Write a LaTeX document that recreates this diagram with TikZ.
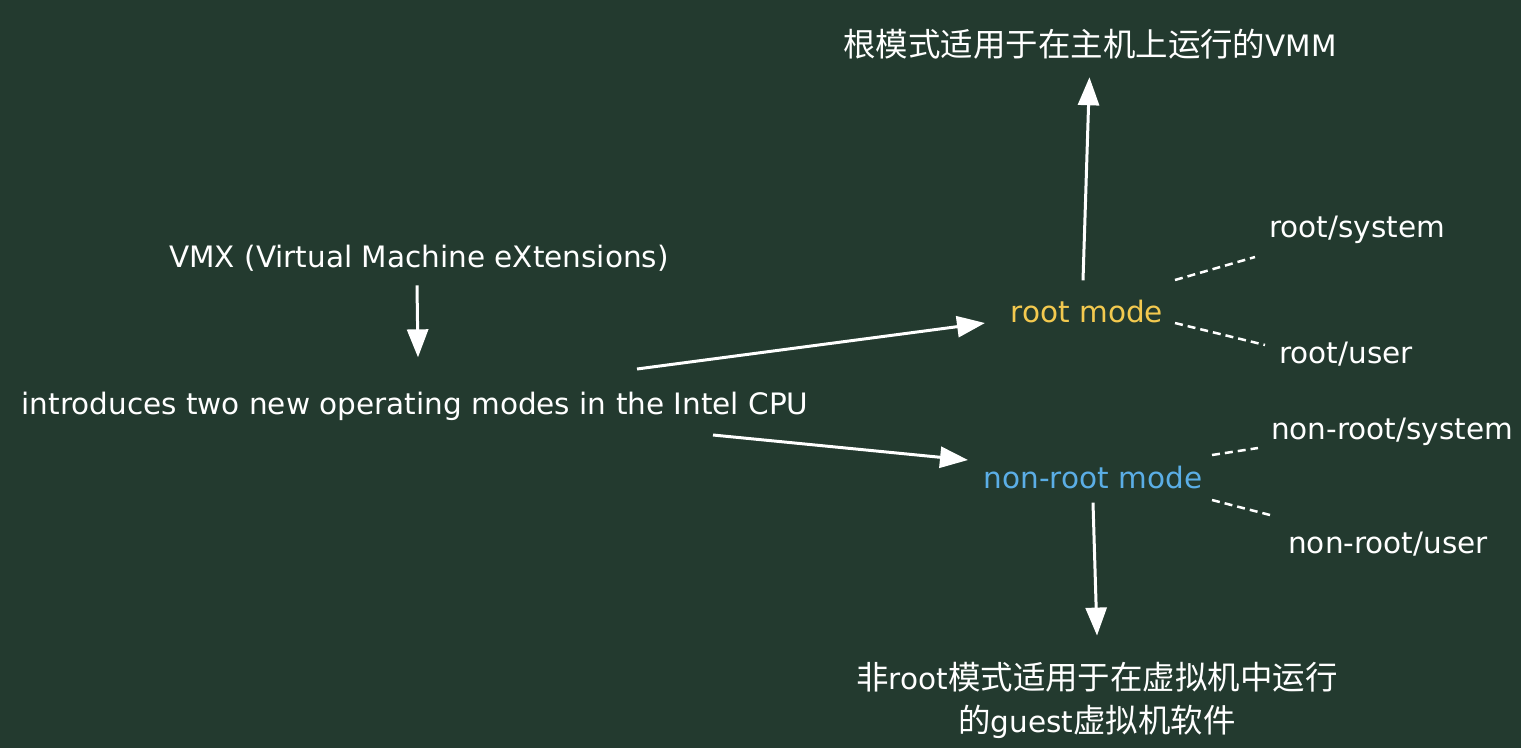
\documentclass[tikz,border=0pt]{standalone}
\usepackage{fontspec}
\setmainfont{DejaVu Sans}
\newfontfamily\cjk[Scale=1.1]{Noto Sans CJK SC}
\usetikzlibrary{arrows.meta}
\definecolor{board}{HTML}{233A2F}
\definecolor{rootcol}{HTML}{F3C94F}
\definecolor{nonrootcol}{HTML}{5BAEE6}
\tikzset{
  txt/.style={text=white, font=\fontsize{29.5}{43}\selectfont, inner sep=0pt, align=center},
  arr/.style={draw=white, line width=3pt, -{Triangle[length=28pt,width=21pt]}},
  dsh/.style={draw=white, line width=2.5pt, dash pattern=on 8pt off 5pt},
}
\begin{document}
\begin{tikzpicture}[x=1pt,y=-1pt]
\fill[board] (0,0) rectangle (1521,748);
\useasboundingbox (0,0) rectangle (1521,748);
% left side
\node[txt] (vmx) at (419,258) {VMX (Virtual Machine eXtensions)};
\node[txt] (intro) at (415,406) {introduces two new operating modes in the Intel CPU};
% modes
\node[txt, text=rootcol] (root) at (1087,311) {root mode};
\node[txt, text=nonrootcol] (nonroot) at (1093,477) {non-root mode};
\node[txt] (vmm) at (1090,44) {{\cjk 根模式适用于在主机上运行的}VMM};
\node[txt] (guest) at (1097,700) {{\cjk 非}root{\cjk 模式适用于在虚拟机中运行}\\{\cjk 的}guest{\cjk 虚拟机软件}};
\node[txt] (rsys) at (1357,230) {root/system};
\node[txt] (rusr) at (1346,354) {root/user};
\node[txt] (nsys) at (1392,432) {non-root/system};
\node[txt] (nusr) at (1388,544) {non-root/user};
% arrows
\draw[arr] (vmx.south) ++(-2,14) -- ++(1,72);
\coordinate (a1) at (637,369);
\coordinate (a2) at (713,435);
\draw[arr] (a1) -- (985,323) coordinate (root-in);
\draw[arr] (a2) -- (968,460) coordinate (nonroot-in);
\draw[arr, shorten >=18pt] ([yshift=19pt]root.north) ++(-4,0) -- (vmm.south);
\draw[arr] ([yshift=-14pt]nonroot.south) -- ([yshift=26pt]guest.north);
% dashed
\coordinate (r1) at (1175,280);
\coordinate (r2) at (1175,323);
\coordinate (n1) at (1212,455);
\coordinate (n2) at (1212,500);
\draw[dsh] (r1) -- (1255,257);
\draw[dsh] (r2) -- (1265,345);
\draw[dsh] (n1) -- (1258,448);
\draw[dsh] (n2) -- (1270,515);
\end{tikzpicture}
\end{document}
